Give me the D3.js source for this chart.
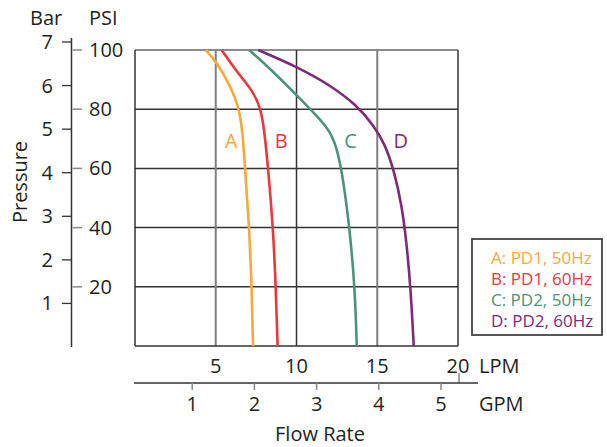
<!DOCTYPE html>
<html>
<head>
<meta charset="utf-8">
<script src="https://cdn.jsdelivr.net/npm/d3@7"></script>
<style>
  body { margin: 0; background: #fff; }
  svg { font-family: "Open Sans", sans-serif; fill: #231f20; }
</style>
</head>
<body>
<svg id="chart" width="607" height="447"></svg>
<script>
// curves: [flow LPM, pressure PSI]
const curveA = [[4.38,100],[5.07,95.9],[5.87,88.2],[6.45,80.5],[6.68,71.3],[6.82,59.5],[7.08,39.2],[7.23,19.3],[7.31,0]]
const curveB = [[5.36,100],[6.29,92.7],[7.25,86.5],[7.8,80.5],[8.04,71.3],[8.25,59.5],[8.56,39.2],[8.72,19.3],[8.83,0]]
const curveC = [[7.07,100],[8.35,93.8],[10.0,84.8],[11.3,77.5],[12.1,72.5],[12.55,66],[12.9,56],[13.3,39.2],[13.62,19.3],[13.73,0]]
const curveD = [[7.63,100],[10.0,94.4],[12.07,88.2],[13.72,81.4],[14.76,74.7],[15.5,68],[16.05,59],[16.5,48],[16.8,35.8],[17.07,19.3],[17.26,0]]

const seriesNames = ["A", "B", "C", "D"]
const legendLabels = ["A: PD1, 50Hz", "B: PD1, 60Hz", "C: PD2, 50Hz", "D: PD2, 60Hz"]
const colors = ["#f7a93b", "#e8383a", "#4b9479", "#7d2a7a"]
// where the letter sits on each curve [LPM, PSI]
const letterPos = [[5.95,67],[9.05,67],[13.35,67],[16.45,67]]

const lpmTicks = [5, 10, 15, 20]
const gpmTicks = [1, 2, 3, 4, 5]
const psiTicks = [20, 40, 60, 80, 100]
const barTicks = [1, 2, 3, 4, 5, 6, 7]

let svg = d3.select("#chart")

let x = d3.scaleLinear().domain([0, 20]).range([135, 458])
let y = d3.scaleLinear().domain([0, 100]).range([346, 50])
let yBar = d3.scaleLinear().domain([0, 7]).range([347, 42])
let xGpm = d3.scaleLinear().domain([0, 5]).range([130, 441])

// grid
let grid = svg.append("g")
grid.selectAll("line.h")
  .data(psiTicks).enter()
  .append("line")
  .attr("x1", x(0)).attr("x2", x(20))
  .attr("y1", d => y(d)).attr("y2", d => y(d))
  .attr("stroke", d => d == 100 ? "#666" : "#333")
  .attr("stroke-width", 1.5)
grid.selectAll("line.v")
  .data([0].concat(lpmTicks)).enter()
  .append("line")
  .attr("x1", d => x(d)).attr("x2", d => x(d))
  .attr("y1", y(100)).attr("y2", y(0))
  .attr("stroke", d => (d == 5 || d == 15) ? "#808080" : "#333")
  .attr("stroke-width", d => (d == 5 || d == 15) ? 2 : 1.5)
grid.append("line")
  .attr("x1", x(0)).attr("x2", x(20))
  .attr("y1", y(0)).attr("y2", y(0))
  .attr("stroke", "#333").attr("stroke-width", 1.5)

// curves
let line = d3.line()
  .x(d => x(d[0]))
  .y(d => y(d[1]))
  .curve(d3.curveBasis)
let curves = [curveA, curveB, curveC, curveD]
svg.append("g").selectAll("path")
  .data(curves).enter()
  .append("path")
  .attr("d", line)
  .attr("fill", "none")
  .attr("stroke", (d, i) => colors[i])
  .attr("stroke-width", 2.6)

svg.append("g").selectAll("text")
  .data(seriesNames).enter()
  .append("text")
  .attr("x", (d, i) => x(letterPos[i][0]))
  .attr("y", (d, i) => y(letterPos[i][1]))
  .attr("text-anchor", "middle")
  .attr("font-size", 20)
  .style("fill", (d, i) => colors[i])
  .text(d => d)

// left pressure axes
let yAxis = svg.append("g")
yAxis.append("line")
  .attr("x1", 71.5).attr("x2", 71.5)
  .attr("y1", 38).attr("y2", 347)
  .attr("stroke", "#333").attr("stroke-width", 1.5)
yAxis.selectAll("line.bar")
  .data(barTicks).enter()
  .append("line")
  .attr("x1", 62).attr("x2", 71.5)
  .attr("y1", d => yBar(d)).attr("y2", d => yBar(d))
  .attr("stroke", "#333").attr("stroke-width", 1.3)
yAxis.selectAll("text.bar")
  .data(barTicks).enter()
  .append("text")
  .attr("x", 53).attr("y", d => yBar(d) + 7)
  .attr("text-anchor", "end")
  .attr("font-size", 20)
  .text(d => d)
yAxis.selectAll("line.psi")
  .data(psiTicks).enter()
  .append("line")
  .attr("x1", 72.5).attr("x2", 82)
  .attr("y1", d => y(d)).attr("y2", d => y(d))
  .attr("stroke", "#888").attr("stroke-width", 1.5)
yAxis.selectAll("text.psi")
  .data(psiTicks).enter()
  .append("text")
  .attr("x", 89).attr("y", d => y(d) + 7)
  .attr("font-size", 20)
  .text(d => d)
yAxis.append("text").attr("x", 30).attr("y", 25).attr("font-size", 20).text("Bar")
yAxis.append("text").attr("x", 89).attr("y", 25).attr("font-size", 20).text("PSI")
yAxis.append("text")
  .attr("transform", "translate(27,182) rotate(-90)")
  .attr("text-anchor", "middle")
  .attr("font-size", 20)
  .text("Pressure")

// bottom flow axes
let xAxis = svg.append("g")
xAxis.selectAll("text.lpm")
  .data(lpmTicks).enter()
  .append("text")
  .attr("x", d => x(d)).attr("y", 373)
  .attr("text-anchor", "middle")
  .attr("font-size", 20)
  .text(d => d)
xAxis.append("text").attr("x", 479).attr("y", 373).attr("font-size", 20).text("LPM")
xAxis.append("line")
  .attr("x1", x(20) + 1).attr("x2", x(20) + 1)
  .attr("y1", 373).attr("y2", 383)
  .attr("stroke", "#888").attr("stroke-width", 1.5)
xAxis.append("line")
  .attr("x1", 134).attr("x2", 478)
  .attr("y1", 383).attr("y2", 383)
  .attr("stroke", "#333").attr("stroke-width", 1.5)
xAxis.selectAll("line.gpm")
  .data(gpmTicks).enter()
  .append("line")
  .attr("x1", d => xGpm(d)).attr("x2", d => xGpm(d))
  .attr("y1", 383).attr("y2", 390)
  .attr("stroke", "#888").attr("stroke-width", 1.5)
xAxis.selectAll("text.gpm")
  .data(gpmTicks).enter()
  .append("text")
  .attr("x", d => xGpm(d)).attr("y", 411)
  .attr("text-anchor", "middle")
  .attr("font-size", 20)
  .text(d => d)
xAxis.append("text").attr("x", 479).attr("y", 411).attr("font-size", 20).text("GPM")
xAxis.append("text")
  .attr("x", 320).attr("y", 441)
  .attr("text-anchor", "middle")
  .attr("font-size", 20)
  .text("Flow Rate")

// legend
let legend = svg.append("g")
legend.append("rect")
  .attr("x", 472).attr("y", 239)
  .attr("width", 130).attr("height", 96)
  .attr("fill", "#fff")
  .attr("stroke", "#444").attr("stroke-width", 1.8)
legend.selectAll("text")
  .data(legendLabels).enter()
  .append("text")
  .attr("x", 491)
  .attr("y", (d, i) => 264 + i * 21)
  .attr("font-size", 17)
  .style("fill", (d, i) => colors[i])
  .text(d => d)
</script>
</body>
</html>
